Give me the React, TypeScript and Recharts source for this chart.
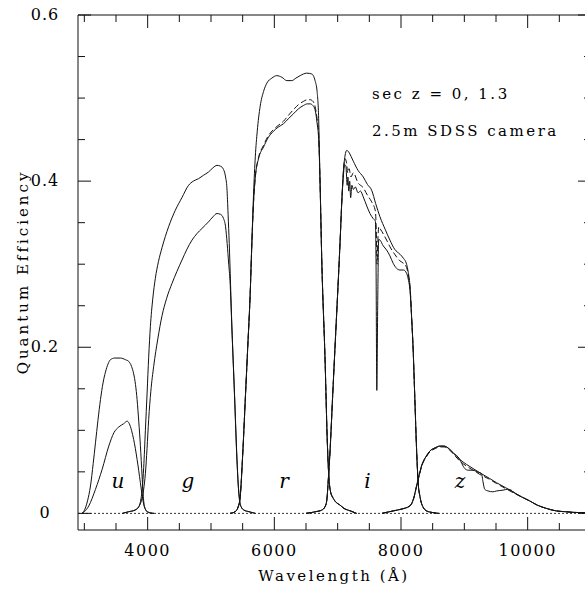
import { LineChart, Line, XAxis, YAxis, ReferenceLine, ReferenceDot } from "recharts";

const FONT = '"DejaVu Serif", "Liberation Serif", serif';
const INK = "#111";

// [wavelength (Å), quantum efficiency]
// top = sec z 0, low = sec z 1.3, mid = dashed curve
const uTop = [
  [2960, 0], [2996, 0.003], [3050, 0.015], [3097, 0.033], [3140, 0.06], [3176, 0.085],
  [3215, 0.112], [3255, 0.137], [3295, 0.157], [3333, 0.17], [3375, 0.18], [3412, 0.185],
  [3480, 0.187], [3570, 0.187], [3650, 0.185], [3700, 0.183], [3745, 0.177], [3779, 0.168],
  [3808, 0.155], [3833, 0.137], [3860, 0.11], [3885, 0.082], [3912, 0.045], [3937, 0.015],
  [3965, 0.005], [4000, 0.002], [4100, 0],
];
const uLow = [
  [2960, 0], [3000, 0.002], [3070, 0.009], [3176, 0.029], [3281, 0.053], [3386, 0.081],
  [3466, 0.097], [3543, 0.104], [3622, 0.108], [3675, 0.111], [3710, 0.108], [3745, 0.1],
  [3779, 0.089], [3833, 0.065], [3885, 0.037], [3912, 0.022], [3940, 0.01], [3970, 0.004],
  [4010, 0.001], [4100, 0],
];
const gTop = [
  [3600, 0], [3700, 0.002], [3800, 0.004], [3860, 0.008], [3895, 0.018], [3915, 0.03],
  [3937, 0.055], [3964, 0.1], [3991, 0.145], [4016, 0.188], [4043, 0.225], [4080, 0.258],
  [4121, 0.283], [4170, 0.303], [4227, 0.32], [4330, 0.345], [4437, 0.365], [4540, 0.38],
  [4646, 0.395], [4720, 0.4], [4804, 0.403], [4880, 0.407], [4961, 0.411], [5030, 0.416],
  [5094, 0.419], [5150, 0.418], [5198, 0.414], [5230, 0.405], [5251, 0.392], [5270, 0.36],
  [5288, 0.325], [5330, 0.225], [5371, 0.145], [5409, 0.068], [5430, 0.035], [5450, 0.017],
  [5475, 0.008], [5520, 0.004], [5600, 0.002], [5700, 0],
];
const gLow = [
  [3600, 0], [3700, 0.002], [3800, 0.004], [3860, 0.008], [3900, 0.015], [3935, 0.028],
  [3964, 0.048], [3990, 0.078], [4016, 0.113], [4050, 0.147], [4095, 0.177], [4160, 0.21],
  [4227, 0.238], [4300, 0.259], [4385, 0.277], [4460, 0.291], [4542, 0.305], [4620, 0.318],
  [4700, 0.329], [4780, 0.337], [4857, 0.343], [4961, 0.351], [5030, 0.357], [5094, 0.361],
  [5150, 0.36], [5198, 0.355], [5230, 0.345], [5255, 0.325], [5280, 0.3], [5300, 0.28],
  [5330, 0.222], [5371, 0.142], [5409, 0.065], [5430, 0.034], [5450, 0.016], [5475, 0.008],
  [5520, 0.004], [5600, 0.002], [5700, 0],
];
const rTop = [
  [5300, 0], [5380, 0.002], [5430, 0.008], [5461, 0.02], [5500, 0.07], [5540, 0.135],
  [5580, 0.2], [5619, 0.265], [5645, 0.325], [5672, 0.385], [5700, 0.43], [5730, 0.46],
  [5776, 0.49], [5830, 0.508], [5882, 0.518], [5960, 0.524], [6039, 0.527], [6120, 0.525],
  [6197, 0.521], [6276, 0.521], [6340, 0.524], [6407, 0.527], [6460, 0.529], [6512, 0.53],
  [6591, 0.529], [6643, 0.521], [6675, 0.508], [6700, 0.475], [6720, 0.405], [6749, 0.305],
  [6801, 0.185], [6837, 0.085], [6860, 0.045], [6885, 0.027], [6931, 0.018], [6980, 0.013],
  [7037, 0.01], [7100, 0.006], [7200, 0.003], [7300, 0],
];
const rLow = [
  [5300, 0], [5380, 0.002], [5430, 0.008], [5461, 0.02], [5500, 0.07], [5540, 0.135],
  [5580, 0.2], [5619, 0.265], [5645, 0.325], [5672, 0.375], [5700, 0.405], [5750, 0.427],
  [5829, 0.441], [5900, 0.452], [5986, 0.46], [6060, 0.465], [6143, 0.469], [6220, 0.475],
  [6301, 0.481], [6380, 0.487], [6459, 0.491], [6520, 0.493], [6564, 0.493], [6610, 0.491],
  [6643, 0.486], [6675, 0.47], [6700, 0.45], [6720, 0.405], [6749, 0.305], [6801, 0.185],
  [6837, 0.085], [6860, 0.045], [6885, 0.027], [6931, 0.018], [6980, 0.013], [7037, 0.01],
  [7100, 0.006], [7200, 0.003], [7300, 0],
];
const rMid = [
  [5300, 0], [5380, 0.002], [5430, 0.008], [5461, 0.02], [5500, 0.07], [5540, 0.135],
  [5580, 0.2], [5619, 0.265], [5645, 0.325], [5672, 0.375], [5700, 0.405], [5750, 0.428],
  [5829, 0.443], [5900, 0.454], [5986, 0.462], [6060, 0.467], [6143, 0.472], [6220, 0.479],
  [6301, 0.486], [6380, 0.492], [6459, 0.496], [6520, 0.498], [6564, 0.498], [6610, 0.496],
  [6643, 0.49], [6675, 0.475], [6700, 0.455], [6720, 0.405], [6749, 0.305], [6801, 0.185],
  [6837, 0.085], [6860, 0.045], [6885, 0.027], [6931, 0.018], [6980, 0.013], [7037, 0.01],
  [7100, 0.006], [7200, 0.003], [7300, 0],
];
const iTop = [
  [6500, 0], [6650, 0.002], [6750, 0.004], [6800, 0.008], [6827, 0.015], [6850, 0.038],
  [6879, 0.074], [6920, 0.14], [6958, 0.2], [7000, 0.265], [7037, 0.325], [7065, 0.375],
  [7089, 0.41], [7115, 0.43], [7143, 0.437], [7175, 0.435], [7210, 0.43], [7247, 0.424],
  [7321, 0.413], [7404, 0.405], [7470, 0.396], [7537, 0.389], [7600, 0.373], [7668, 0.357],
  [7750, 0.342], [7825, 0.329], [7900, 0.318], [7983, 0.312], [8040, 0.307], [8088, 0.3],
  [8115, 0.29], [8140, 0.275], [8167, 0.237], [8192, 0.197], [8219, 0.137], [8246, 0.077],
  [8271, 0.037], [8300, 0.02], [8324, 0.012], [8403, 0.003], [8500, 0.001], [8600, 0],
];
const iLow = [
  [6500, 0], [6650, 0.002], [6750, 0.004], [6800, 0.008], [6827, 0.015], [6850, 0.038],
  [6879, 0.074], [6920, 0.14], [6958, 0.2], [7000, 0.265], [7037, 0.325], [7065, 0.375],
  [7089, 0.405], [7110, 0.42], [7130, 0.418], [7150, 0.395], [7162, 0.405], [7175, 0.388],
  [7190, 0.4], [7205, 0.38], [7225, 0.395], [7247, 0.39], [7280, 0.393], [7321, 0.386],
  [7360, 0.388], [7404, 0.381], [7460, 0.37], [7510, 0.361], [7560, 0.355], [7595, 0.352],
  [7606, 0.3], [7618, 0.148], [7632, 0.25], [7648, 0.33], [7668, 0.329], [7720, 0.322],
  [7773, 0.317], [7825, 0.31], [7877, 0.301], [7930, 0.295], [7983, 0.293], [8040, 0.293],
  [8088, 0.289], [8120, 0.28], [8140, 0.27], [8167, 0.237], [8192, 0.197], [8219, 0.137],
  [8246, 0.077], [8271, 0.037], [8300, 0.02], [8324, 0.012], [8403, 0.003], [8500, 0.001],
  [8600, 0],
];
const iMid = [
  [6500, 0], [6650, 0.002], [6750, 0.004], [6800, 0.008], [6827, 0.015], [6850, 0.038],
  [6879, 0.074], [6920, 0.14], [6958, 0.2], [7000, 0.265], [7037, 0.325], [7065, 0.375],
  [7089, 0.41], [7115, 0.427], [7140, 0.422], [7160, 0.41], [7180, 0.415], [7210, 0.405],
  [7247, 0.41], [7321, 0.398], [7404, 0.392], [7470, 0.383], [7537, 0.375], [7595, 0.364],
  [7610, 0.34], [7622, 0.3], [7635, 0.33], [7650, 0.345], [7668, 0.343], [7773, 0.329],
  [7825, 0.321], [7900, 0.312], [7983, 0.304], [8040, 0.301], [8088, 0.296], [8125, 0.282],
  [8150, 0.265], [8167, 0.237], [8192, 0.197], [8219, 0.137], [8246, 0.077], [8271, 0.037],
  [8300, 0.02], [8324, 0.012], [8403, 0.003], [8500, 0.001], [8600, 0],
];
const zTop = [
  [7700, 0], [7877, 0.003], [8000, 0.005], [8140, 0.009], [8200, 0.018], [8246, 0.033],
  [8290, 0.047], [8324, 0.057], [8400, 0.069], [8455, 0.075], [8540, 0.079], [8613, 0.081],
  [8680, 0.081], [8719, 0.08], [8770, 0.077], [8823, 0.073], [8928, 0.065], [9034, 0.059],
  [9138, 0.054], [9243, 0.049], [9400, 0.042], [9507, 0.037], [9650, 0.031], [9768, 0.026],
  [9900, 0.02], [10032, 0.015], [10150, 0.01], [10295, 0.006], [10450, 0.003], [10600, 0.002],
  [10800, 0.001], [11000, 0.001],
];
const zMid = [
  [7700, 0], [7877, 0.003], [8000, 0.005], [8140, 0.009], [8200, 0.018], [8246, 0.033],
  [8290, 0.046], [8324, 0.056], [8400, 0.068], [8455, 0.074], [8540, 0.078], [8613, 0.08],
  [8680, 0.08], [8719, 0.079], [8770, 0.076], [8823, 0.072], [8928, 0.063], [9034, 0.057],
  [9138, 0.052], [9243, 0.047], [9400, 0.041], [9507, 0.036], [9650, 0.03], [9768, 0.025],
  [9900, 0.02], [10032, 0.015], [10150, 0.01], [10295, 0.006], [10450, 0.003], [10600, 0.002],
  [10800, 0.001], [11000, 0.001],
];
const zLow = [
  [7700, 0], [7877, 0.003], [8000, 0.005], [8140, 0.009], [8200, 0.018], [8246, 0.033],
  [8290, 0.047], [8324, 0.057], [8400, 0.069], [8455, 0.075], [8540, 0.079], [8613, 0.081],
  [8680, 0.081], [8719, 0.08], [8770, 0.077], [8823, 0.073], [8928, 0.065], [8960, 0.06],
  [9007, 0.054], [9060, 0.052], [9138, 0.052], [9200, 0.05], [9270, 0.048], [9295, 0.038],
  [9322, 0.029], [9374, 0.027], [9450, 0.026], [9507, 0.027], [9611, 0.028], [9680, 0.029],
  [9740, 0.028], [9768, 0.026], [9900, 0.02], [10032, 0.015], [10150, 0.01], [10295, 0.006],
  [10450, 0.003], [10600, 0.002], [10800, 0.001], [11000, 0.001],
];

const solidCurves = [uTop, uLow, gTop, gLow, rTop, rLow, iTop, iLow, zTop, zLow];
const dashedCurves = [rMid, iMid, zMid];

const bandNames = ["u", "g", "r", "i", "z"];
const bandLabelX = [3532, 4637, 6153, 7471, 8932];
const bandLabelY = 0.039;

const noteLines = ["sec z = 0, 1.3", "2.5m SDSS camera"];
const noteX = 7542;
const noteY = [0.5056, 0.461];

const xTicks = [3000, 3500, 4000, 4500, 5000, 5500, 6000, 6500, 7000, 7500, 8000, 8500, 9000, 9500, 10000, 10500];
const xMajor = [4000, 6000, 8000, 10000];
const yTicks = [0, 0.05, 0.1, 0.15, 0.2, 0.25, 0.3, 0.35, 0.4, 0.45, 0.5, 0.55, 0.6];
const yMajor = [0, 0.2, 0.4, 0.6];

const toPoints = (c: number[][]) => c.map(([w, q]) => ({ w, q }));

const textStyle = { fontFamily: FONT, fill: "#000" };

function BottomTick({ x, y, payload }: any) {
  const major = xMajor.includes(payload.value);
  return (
    <g>
      <line x1={x} x2={x} y1={y} y2={y - (major ? 13 : 7)} stroke={INK} strokeWidth={1} />
      {major && (
        <text x={x} y={y + 26} textAnchor="middle" fontSize={16} letterSpacing={1.5} style={textStyle}>
          {payload.value}
        </text>
      )}
    </g>
  );
}

function TopTick({ x, y, payload }: any) {
  const major = xMajor.includes(payload.value);
  return <line x1={x} x2={x} y1={y} y2={y + (major ? 13 : 7)} stroke={INK} strokeWidth={1} />;
}

function LeftTick({ x, y, payload }: any) {
  const v = payload.value;
  const major = yMajor.some((m) => Math.abs(m - v) < 1e-9);
  return (
    <g>
      <line x1={x} x2={x + (major ? 13 : 7)} y1={y} y2={y} stroke={INK} strokeWidth={1} />
      {major && (
        <text x={x - 33} y={y + 5} textAnchor="middle" fontSize={16} letterSpacing={1} style={textStyle}>
          {v === 0 ? "0" : v.toFixed(1)}
        </text>
      )}
    </g>
  );
}

function RightTick({ x, y, payload }: any) {
  const v = payload.value;
  const major = yMajor.some((m) => Math.abs(m - v) < 1e-9);
  return <line x1={x} x2={x - (major ? 13 : 7)} y1={y} y2={y} stroke={INK} strokeWidth={1} />;
}

export default function App() {
  return (
    <div
      style={{
        position: "absolute",
        left: 0,
        top: 0,
        width: 585,
        height: 592,
        overflow: "hidden",
        background: "#fff",
      }}
    >
      <LineChart width={600} height={592} margin={{ top: 14, right: 8, bottom: 10, left: 18 }}>
        <XAxis
          dataKey="w"
          type="number"
          domain={[2900, 11000]}
          allowDataOverflow
          ticks={xTicks}
          interval={0}
          tickSize={0}
          tickMargin={0}
          tickLine={false}
          axisLine={{ stroke: INK }}
          height={52}
          tick={BottomTick}
          label={{
            content: () => (
              <text x={334} y={581} textAnchor="middle" fontSize={15} letterSpacing={2.5} style={textStyle}>
                Wavelength (Å)
              </text>
            ),
          }}
        />
        <XAxis
          xAxisId="t"
          orientation="top"
          dataKey="w"
          type="number"
          domain={[2900, 11000]}
          allowDataOverflow
          ticks={xTicks}
          interval={0}
          tickSize={0}
          tickMargin={0}
          tickLine={false}
          axisLine={{ stroke: INK }}
          height={1}
          tick={TopTick}
        />
        <YAxis
          type="number"
          domain={[-0.02, 0.6]}
          allowDataOverflow
          ticks={yTicks}
          interval={0}
          tickSize={0}
          tickMargin={0}
          tickLine={false}
          axisLine={{ stroke: INK }}
          width={60}
          tick={LeftTick}
          label={{
            content: () => (
              <text
                x={28}
                y={272}
                transform="rotate(-90 28 272)"
                textAnchor="middle"
                fontSize={15}
                letterSpacing={3}
                style={textStyle}
              >
                Quantum Efficiency
              </text>
            ),
          }}
        />
        <YAxis
          yAxisId="r"
          orientation="right"
          type="number"
          domain={[-0.02, 0.6]}
          allowDataOverflow
          ticks={yTicks}
          interval={0}
          tickSize={0}
          tickMargin={0}
          tickLine={false}
          axisLine={{ stroke: INK }}
          width={1}
          tick={RightTick}
        />
        <ReferenceLine y={0} stroke="#333" strokeDasharray="2 2" />
        {solidCurves.map((c, k) => (
          <Line
            key={"s" + k}
            data={toPoints(c)}
            dataKey="q"
            type="monotone"
            stroke={INK}
            strokeWidth={1}
            dot={false}
            activeDot={false}
            isAnimationActive={false}
          />
        ))}
        {dashedCurves.map((c, k) => (
          <Line
            key={"d" + k}
            data={toPoints(c)}
            dataKey="q"
            type="monotone"
            stroke={INK}
            strokeWidth={1}
            strokeDasharray="6 3"
            dot={false}
            activeDot={false}
            isAnimationActive={false}
          />
        ))}
        {bandNames.map((b, k) => (
          <ReferenceDot
            key={b}
            x={bandLabelX[k]}
            y={bandLabelY}
            r={0}
            fill="none"
            stroke="none"
            label={{
              value: b,
              position: "center",
              fontSize: 20,
              fontStyle: "italic",
              fontFamily: FONT,
              fill: "#000",
            }}
          />
        ))}
        {noteLines.map((t, k) => (
          <ReferenceDot
            key={t}
            x={noteX}
            y={noteY[k]}
            r={0}
            fill="none"
            stroke="none"
            label={{
              value: t,
              position: "right",
              offset: 0,
              fontSize: 15,
              fontFamily: FONT,
              fill: "#000",
              letterSpacing: 2.5,
              style: { letterSpacing: 2.5 },
            }}
          />
        ))}
      </LineChart>
    </div>
  );
}
